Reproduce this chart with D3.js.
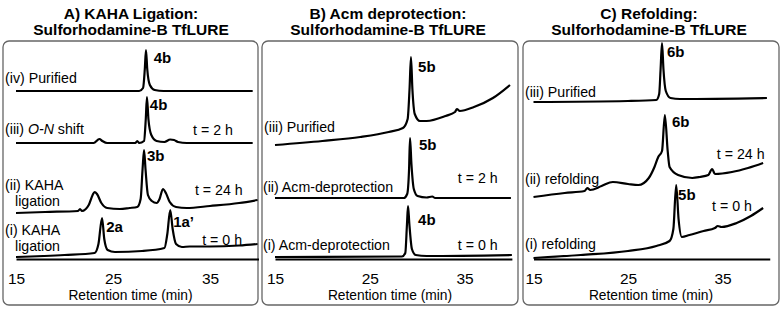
<!DOCTYPE html>
<html>
<head>
<meta charset="utf-8">
<script src="https://cdn.jsdelivr.net/npm/d3@7"></script>
<style>
  body { margin: 0; background: #fff; }
  svg { display: block; font-family: "Liberation Sans", Arial, sans-serif; }
</style>
</head>
<body>
<svg id="chart" width="782" height="310"></svg>
<script>
// x axis shared by the three chromatogram panels
const timeDomain = [15, 40];
const timeTicks = [15, 25, 35];
const axisLabel = "Retention time (min)";

const titles = [
  ["A) KAHA Ligation:", "Sulforhodamine-B TfLURE"],
  ["B) Acm deprotection:", "Sulforhodamine-B TfLURE"],
  ["C) Refolding:", "Sulforhodamine-B TfLURE"],
];

// traces as [retention time (min), signal (a.u., stacked offset included)]
// Panel A: KAHA ligation
const kahaPurified = [
  [15, 168], [27.7, 168], [28.1, 171], [28.28, 190], [28.4, 209], [28.53, 190],
  [28.8, 174], [29.3, 169], [30.2, 168], [39.4, 168],
];
const kahaShift2h = [
  [15, 116], [23.0, 116], [23.6, 120], [23.9, 118], [24.4, 116], [27.3, 116],
  [27.5, 118], [27.7, 116], [28.2, 118], [28.38, 140], [28.5, 162], [28.65, 140],
  [28.95, 124], [29.5, 118], [30.3, 117], [30.9, 119.5], [31.3, 119], [31.7, 117],
  [32.6, 116], [39.4, 116],
];
const kahaLigation24h = [
  [15, 46], [18, 47], [21.4, 48], [21.6, 50], [21.8, 48], [22.5, 54], [22.9, 64],
  [23.1, 67], [23.35, 65], [23.8, 56], [24.4, 51], [25.7, 50], [26.7, 51],
  [27.5, 52], [27.85, 60], [28.05, 90], [28.2, 109], [28.35, 90], [28.6, 64],
  [29.0, 58], [29.5, 56], [29.8, 60], [30.15, 70], [30.45, 66], [30.85, 57],
  [31.5, 52], [32.6, 51], [35, 53], [38, 56], [39.9, 59],
];
const kahaLigation0h = [
  [15, 2], [20, 4], [23.1, 6], [23.5, 15], [23.87, 41], [24.1, 20], [24.45, 9],
  [25.2, 7], [28, 8], [30.3, 11], [30.6, 25], [30.9, 49], [31.15, 30], [31.5, 15],
  [32.1, 12], [32.9, 12.5], [35, 12.5], [38, 13.5], [39.9, 15],
];

// Panel B: Acm deprotection
const acmPurified = [
  [15, 114], [20, 118], [24, 122], [27, 127], [28.5, 131], [29.0, 140],
  [29.2, 170], [29.35, 202], [29.5, 170], [29.75, 145], [30.3, 138], [31, 138],
  [33, 143], [34.0, 147], [34.2, 150], [34.5, 148], [36, 152], [38, 161], [39.8, 174],
];
const acm2h = [
  [15, 61], [28.6, 61], [28.95, 65], [29.15, 90], [29.25, 121], [29.4, 95],
  [29.65, 70], [30.05, 63], [31, 61.5], [31.6, 62.5], [31.9, 61], [39.9, 61],
];
const acm0h = [
  [15, 2], [28.4, 2.5], [28.75, 6], [28.93, 35], [29.04, 53], [29.18, 35],
  [29.45, 10], [29.85, 4], [31, 3], [40, 4],
];

// Panel C: refolding
const refoldPurified = [
  [15, 157], [25, 158], [28.0, 159], [28.3, 165], [28.45, 190], [28.6, 216],
  [28.75, 190], [29.0, 168], [29.5, 161], [30.5, 160], [39.7, 161],
];
const refold24h = [
  [15, 62], [18.3, 66], [20.4, 68], [20.7, 71], [21.0, 69], [22.2, 73],
  [23.4, 77], [25.0, 75], [26.1, 74], [27.2, 81], [27.8, 92], [28.2, 102],
  [28.6, 108], [28.9, 144], [29.2, 108], [29.4, 92], [30.3, 84], [31.8, 81],
  [32.6, 82], [33.5, 84], [33.9, 90], [34.2, 85], [36.0, 87], [37.7, 91], [39.3, 96],
];
const refold0h = [
  [15, 1], [20, 4], [25, 8], [28, 13], [29.4, 18], [29.8, 30], [30.1, 74],
  [30.35, 40], [30.7, 22], [31.5, 24], [33, 28], [34.2, 31], [34.5, 33],
  [34.9, 32], [36.5, 36], [38, 43], [39.3, 51],
];

// annotations: [text, time, signal, kind]
const notesA = [
  ["(iv) Purified", 13.87, 176, "trace"], ["4b", 29.2, 196, "peak"],
  ["(iii) |O-N| shift", 13.87, 125, "trace"], ["t = 2 h", 33.25, 124, "trace"], ["4b", 28.8, 149, "peak"],
  ["3b", 28.5, 98, "peak"], ["(ii) KAHA", 13.87, 69, "trace"], ["ligation", 14.9, 53, "trace"],
  ["t = 24 h", 33.45, 64, "trace"],
  ["2a", 24.3, 27, "peak"], ["1a’", 31.2, 32, "peak"], ["(i) KAHA", 13.87, 24, "trace"],
  ["ligation", 14.9, 8, "trace"], ["t = 0 h", 34.2, 14, "trace"],
];
const notesB = [
  ["(iii) Purified", 13.84, 127, "trace"], ["5b", 30.1, 187, "peak"],
  ["5b", 30.2, 109, "peak"], ["(ii) Acm-deprotection", 13.73, 67, "trace"], ["t = 2 h", 34.3, 76, "trace"],
  ["4b", 30.1, 34, "peak"], ["(i) Acm-deprotection", 13.73, 9, "trace"], ["t = 0 h", 34.3, 9, "trace"],
];
const notesC = [
  ["(iii) Purified", 14.1, 162, "trace"], ["6b", 29.13, 202, "peak"],
  ["6b", 29.66, 132, "peak"], ["t = 24 h", 34.4, 100, "trace"], ["(ii) refolding", 14.1, 75, "trace"],
  ["5b", 30.3, 59, "peak"], ["t = 0 h", 33.9, 48, "trace"], ["(i) refolding", 14.1, 10, "trace"],
];

const panels = [
  { box: [3, 258], x0: 16, pxPerMin: 9.7, titleX: 131, title: titles[0],
    traces: [kahaPurified, kahaShift2h, kahaLigation24h, kahaLigation0h], notes: notesA },
  { box: [262, 518], x0: 275, pxPerMin: 9.475, titleX: 388, title: titles[1],
    traces: [acmPurified, acm2h, acm0h], notes: notesB },
  { box: [523, 779], x0: 533.5, pxPerMin: 9.45, titleX: 649, title: titles[2],
    traces: [refoldPurified, refold24h, refold0h], notes: notesC },
];

const svg = d3.select("#chart");
const boxTop = 41, boxBottom = 305, axisY = 259;

const y = d3.scaleLinear().domain([0, 220]).range([axisY, axisY - 220]);

panels.forEach((p) => {
  const x = d3.scaleLinear()
    .domain(timeDomain)
    .range([p.x0, p.x0 + (timeDomain[1] - timeDomain[0]) * p.pxPerMin]);

  const g = svg.append("g");

  // title
  const title = g.append("text")
    .attr("text-anchor", "middle")
    .attr("font-weight", "bold")
    .attr("font-size", 15.5);
  title.append("tspan").attr("x", p.titleX).attr("y", 19).text(p.title[0]);
  title.append("tspan").attr("x", p.titleX).attr("y", 34.5).text(p.title[1]);

  // rounded frame
  g.append("rect")
    .attr("x", p.box[0]).attr("y", boxTop)
    .attr("width", p.box[1] - p.box[0]).attr("height", boxBottom - boxTop)
    .attr("rx", 6)
    .attr("fill", "none")
    .attr("stroke", "#666")
    .attr("stroke-width", 1.3);

  // axis
  const axis = g.append("g")
    .attr("transform", `translate(0,${axisY})`)
    .call(d3.axisBottom(x).tickValues(timeTicks).tickSize(0).tickSizeOuter(0).tickPadding(13.5));
  axis.select(".domain").attr("stroke", "#000").attr("stroke-width", 2);
  axis.selectAll("text")
    .attr("font-size", 15.5)
    .attr("font-family", "Liberation Sans, Arial, sans-serif")
    .attr("fill", "#000");

  g.append("text")
    .attr("x", (p.box[0] + p.box[1]) / 2)
    .attr("y", 299.5)
    .attr("text-anchor", "middle")
    .attr("font-size", 13.8)
    .text(axisLabel);

  // chromatograms
  const line = d3.line()
    .curve(d3.curveMonotoneX)
    .x((d) => x(d[0]))
    .y((d) => y(d[1]));

  g.selectAll("path.trace")
    .data(p.traces)
    .join("path")
    .attr("class", "trace")
    .attr("d", line)
    .attr("fill", "none")
    .attr("stroke", "#000")
    .attr("stroke-width", 2.2)
    .attr("stroke-linejoin", "round");

  // annotations
  p.notes.forEach(([txt, t, v, kind]) => {
    const el = g.append("text")
      .attr("x", x(t))
      .attr("y", y(v))
      .attr("font-size", kind === "peak" ? 15 : 14.2)
      .attr("font-weight", kind === "peak" ? "bold" : "normal");
    txt.split("|").forEach((part, i) => {
      el.append("tspan")
        .attr("font-style", i === 1 ? "italic" : "normal")
        .text(part);
    });
  });
});
</script>
</body>
</html>
